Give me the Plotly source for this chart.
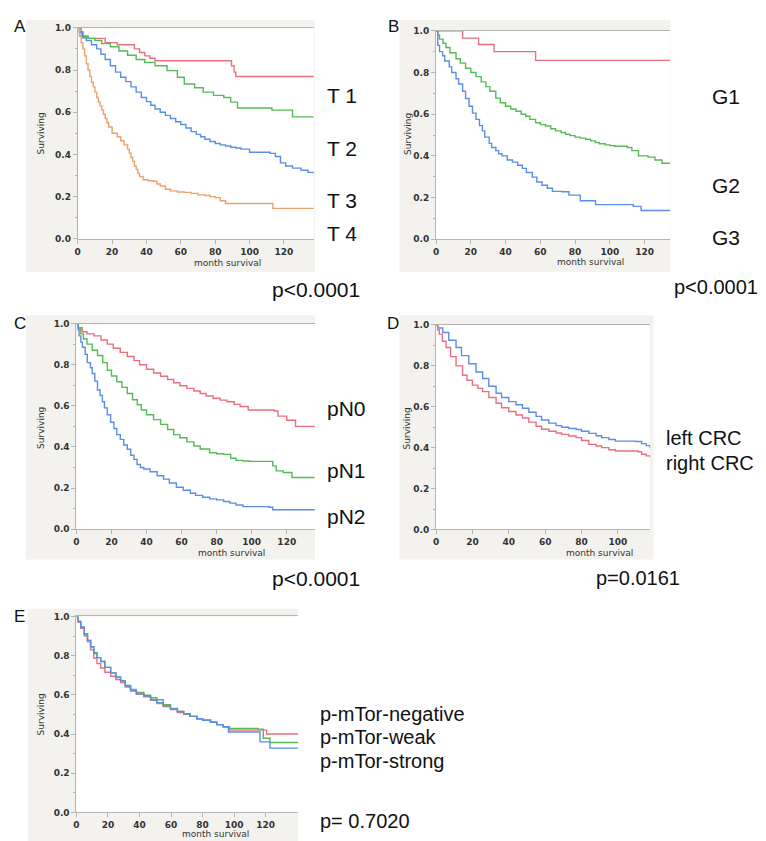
import plotly.graph_objects as go

# ---------------- data ----------------
A_T1_t = [0, 2, 6, 16, 23, 33, 36, 39, 42, 45, 89.5, 91, 92, 137.4]
A_T1_s = [1.0, 0.96, 0.95, 0.93, 0.92, 0.90, 0.883, 0.867, 0.856, 0.844, 0.82, 0.79, 0.769, 0.769]
A_T2_t = [0, 1, 3, 6, 10, 14, 19, 24, 29, 34, 39, 45, 52, 58, 62, 68, 73, 79, 85, 89, 93, 113, 125, 137.4]
A_T2_s = [1.0, 0.98, 0.96, 0.95, 0.94, 0.925, 0.91, 0.89, 0.87, 0.85, 0.836, 0.82, 0.797, 0.766, 0.734, 0.716,
          0.695, 0.68, 0.67, 0.648, 0.62, 0.61, 0.578, 0.578]
A_T3_t = [0, 1, 3, 5, 8, 11, 13.5, 16, 19, 22, 25, 28, 31, 34, 37, 40, 42.5, 45, 48, 51, 54, 57, 60, 63, 66, 69,
          71.5, 74, 77, 80, 83, 86, 89, 92, 95, 100, 112, 115, 118, 121, 125, 130, 134, 137.4]
A_T3_s = [1.0, 0.98, 0.953, 0.94, 0.92, 0.90, 0.875, 0.85, 0.82, 0.79, 0.766, 0.745, 0.72, 0.695, 0.67, 0.65, 0.633,
          0.615, 0.60, 0.585, 0.57, 0.555, 0.542, 0.525, 0.508, 0.495, 0.484, 0.472, 0.461, 0.452, 0.445, 0.44,
          0.434, 0.43, 0.425, 0.41, 0.405, 0.39, 0.36, 0.345, 0.335, 0.325, 0.315, 0.31]
A_T4_t = [0, 1, 2, 3, 4, 5, 6, 7, 8, 9, 10, 11, 12, 13, 14, 15, 16, 17, 18, 20, 23, 25, 27, 29, 30, 31, 32, 33, 34,
          35, 36, 38, 41, 44, 46, 48, 51, 54, 58, 62, 66, 70, 74, 77, 80, 83, 86, 113.6, 137.4]
A_T4_s = [1.0, 0.96, 0.93, 0.90, 0.867, 0.83, 0.80, 0.77, 0.742, 0.72, 0.695, 0.67, 0.648, 0.63, 0.61, 0.59, 0.57,
          0.55, 0.53, 0.50, 0.484, 0.465, 0.445, 0.425, 0.406, 0.385, 0.367, 0.345, 0.33, 0.31, 0.295, 0.28, 0.275,
          0.273, 0.26, 0.25, 0.235, 0.227, 0.222, 0.22, 0.215, 0.208, 0.205, 0.20, 0.195, 0.18, 0.167, 0.144, 0.144]

B_G1_t = [0, 15.3, 24.5, 33.4, 57.3, 134.7]
B_G1_s = [1.0, 0.965, 0.934, 0.90, 0.858, 0.858]
B_G2_t = [0, 1, 2, 4, 5.7, 8, 11.5, 14, 17, 20, 23, 26, 28.7, 31, 34.4, 37, 40, 43, 46, 49, 51.6, 54, 57.3, 60, 63,
          66, 68.8, 72, 74.5, 77, 80, 83, 86, 89, 91.7, 94, 97.4, 100, 103, 110, 112.7, 116.5, 122, 126, 130, 134.7]
B_G2_s = [1.0, 0.98, 0.96, 0.94, 0.92, 0.895, 0.866, 0.845, 0.82, 0.80, 0.78, 0.755, 0.732, 0.71, 0.677, 0.655,
          0.638, 0.625, 0.614, 0.60, 0.59, 0.575, 0.559, 0.55, 0.543, 0.53, 0.52, 0.512, 0.504, 0.497, 0.49, 0.485,
          0.48, 0.472, 0.464, 0.458, 0.453, 0.449, 0.446, 0.44, 0.425, 0.40, 0.394, 0.38, 0.365, 0.36]
B_G3_t = [0, 1, 2, 3.8, 5, 7.6, 9, 11.5, 13, 15.3, 17, 19, 21, 23, 25, 26.7, 28, 30.6, 32, 34.4, 36, 38, 41, 44, 47,
          49.7, 52, 55.4, 58, 61, 64, 67, 72.6, 76.5, 83, 91.8, 113.5, 118, 134.7]
B_G3_s = [1.0, 0.93, 0.90, 0.88, 0.855, 0.827, 0.80, 0.77, 0.745, 0.71, 0.675, 0.638, 0.605, 0.575, 0.545, 0.52,
          0.49, 0.46, 0.44, 0.425, 0.41, 0.40, 0.38, 0.37, 0.355, 0.34, 0.32, 0.298, 0.275, 0.259, 0.245, 0.23,
          0.228, 0.212, 0.185, 0.166, 0.158, 0.138, 0.138]

C_N0_t = [0, 1, 3.4, 6, 10, 14, 17.6, 21, 25, 29, 32.8, 36, 40, 44, 48, 52, 55.5, 59, 63, 67, 70.6, 74, 78, 82,
          85.8, 90, 93.4, 98, 113, 115, 120, 125, 136]
C_N0_s = [1.0, 0.98, 0.96, 0.95, 0.94, 0.92, 0.90, 0.88, 0.86, 0.84, 0.82, 0.80, 0.778, 0.76, 0.744, 0.728, 0.712,
          0.698, 0.685, 0.672, 0.66, 0.648, 0.637, 0.628, 0.62, 0.607, 0.597, 0.58, 0.575, 0.55, 0.53, 0.50, 0.495]
C_N1_t = [0, 1, 2.5, 4, 6, 9, 12, 15, 17.6, 20, 23, 26, 29, 32, 34.7, 37, 40, 44, 48, 52, 55.5, 59, 63, 67, 70.6,
          76, 80, 84, 88, 91, 95, 99, 112, 114, 118, 123, 136]
C_N1_s = [1.0, 0.975, 0.95, 0.925, 0.90, 0.87, 0.845, 0.81, 0.773, 0.745, 0.717, 0.69, 0.66, 0.63, 0.605, 0.58,
          0.557, 0.533, 0.51, 0.485, 0.46, 0.445, 0.425, 0.405, 0.39, 0.372, 0.367, 0.364, 0.345, 0.335, 0.332,
          0.33, 0.308, 0.284, 0.276, 0.252, 0.252]
C_N2_t = [0, 1, 1.5, 2.5, 3.4, 5, 6.2, 8, 9, 10.5, 12, 13.5, 14.8, 16, 17.6, 19.5, 21.4, 23, 25, 27, 29, 31, 32.8,
          34.6, 36.5, 38.4, 42, 46, 49.7, 53, 57, 61, 65, 68, 72, 76, 80, 84, 87.5, 91, 95, 110, 112, 136]
C_N2_s = [1.0, 0.97, 0.94, 0.91, 0.885, 0.85, 0.81, 0.785, 0.757, 0.72, 0.677, 0.65, 0.62, 0.59, 0.557, 0.52, 0.49,
          0.46, 0.437, 0.41, 0.389, 0.36, 0.34, 0.315, 0.30, 0.293, 0.28, 0.26, 0.244, 0.225, 0.204, 0.19, 0.175,
          0.165, 0.156, 0.148, 0.143, 0.135, 0.127, 0.118, 0.11, 0.107, 0.095, 0.095]

D_left_t = [0, 1, 3.7, 7, 11, 14, 18, 22, 25.6, 29, 33, 36, 40, 44, 47.5, 51, 55, 58, 62, 66, 69, 73, 77, 80, 84,
            88, 91, 95, 98.6, 109.6, 113, 115.5, 117.7]
D_left_s = [1.0, 0.985, 0.963, 0.925, 0.89, 0.85, 0.81, 0.77, 0.738, 0.70, 0.666, 0.645, 0.625, 0.61, 0.593, 0.573,
            0.553, 0.535, 0.52, 0.508, 0.50, 0.494, 0.489, 0.48, 0.47, 0.458, 0.449, 0.44, 0.432, 0.43, 0.42,
            0.41, 0.397]
D_right_t = [0, 1, 1.8, 3.5, 5.5, 8, 11, 14.6, 17, 20, 23, 25.6, 29, 33, 36, 40, 44, 47.5, 51, 55, 58, 62, 66, 69,
             73, 77, 80, 84, 88, 91, 95, 98.6, 111, 113, 115.5, 117.7]
D_right_s = [1.0, 0.975, 0.955, 0.92, 0.89, 0.845, 0.80, 0.754, 0.73, 0.706, 0.69, 0.674, 0.645, 0.617, 0.595,
             0.577, 0.56, 0.545, 0.525, 0.505, 0.49, 0.48, 0.472, 0.465, 0.457, 0.449, 0.435, 0.416, 0.408, 0.40,
             0.39, 0.384, 0.38, 0.368, 0.36, 0.352]

E_neg_t = [0, 1, 2.7, 5, 7, 9, 11, 13, 15.4, 18, 21.7, 25, 28, 31, 34.3, 38, 42.7, 47, 51, 55, 59.6, 64, 68, 72,
           76.4, 80, 85, 89, 93, 97, 120.6, 140.6]
E_neg_s = [1.0, 0.97, 0.94, 0.9, 0.87, 0.83, 0.787, 0.76, 0.737, 0.715, 0.695, 0.678, 0.662, 0.64, 0.62, 0.603,
           0.59, 0.572, 0.555, 0.54, 0.525, 0.51, 0.50, 0.49, 0.478, 0.47, 0.46, 0.448, 0.437, 0.42, 0.40, 0.40]
E_weak_t = [0, 1, 2.7, 5, 7, 9, 11, 13, 15.4, 18, 21.7, 25, 28, 31, 34.3, 38, 42.7, 47, 51, 55, 59.6, 64, 68, 72,
            76.4, 80, 85, 89, 93, 97, 115, 118.5, 122.7, 140.6]
E_weak_s = [1.0, 0.975, 0.945, 0.91, 0.878, 0.845, 0.815, 0.79, 0.77, 0.74, 0.712, 0.69, 0.672, 0.648, 0.628,
            0.612, 0.598, 0.585, 0.575, 0.55, 0.53, 0.515, 0.503, 0.49, 0.478, 0.47, 0.46, 0.448, 0.437, 0.428,
            0.425, 0.378, 0.357, 0.357]
E_strong_t = [0, 1, 2.7, 5, 7, 9, 11, 13, 15.4, 18, 21.7, 25, 28, 31, 34.3, 38, 42.7, 47, 51, 55, 59.6, 64, 68, 72,
              76.4, 80, 85, 89, 93, 96.4, 116.4, 122.7, 140.6]
E_strong_s = [1.0, 0.975, 0.945, 0.91, 0.878, 0.845, 0.81, 0.79, 0.77, 0.74, 0.712, 0.69, 0.67, 0.645, 0.62, 0.605,
              0.595, 0.575, 0.56, 0.545, 0.528, 0.515, 0.503, 0.49, 0.478, 0.47, 0.46, 0.448, 0.437, 0.41, 0.36,
              0.328, 0.328]

y_ticks = [0.0, 0.2, 0.4, 0.6, 0.8, 1.0]
x_ticks = [0, 20, 40, 60, 80, 100, 120]

# ---------------- styling ----------------
W, H = 766, 841
RED, GREEN, BLUE, ORANGE = "#e8707f", "#55bb55", "#5b8ee6", "#eba26e"
PANEL_BG = "#f3f2ee"
AX = "#b4b4b4"
FONT = "Liberation Sans, Arial, sans-serif"
SMALL = "DejaVu Sans, sans-serif"

def px(x):
    return x / W

def py(y):
    return 1 - y / H

panels = [
    dict(letter="A", box=(67, 15, 304, 228.5), xmax=137.4, grey=(15, 7, 305, 262), letter_xy=(9, 14),
         curves=[(A_T1_t, A_T1_s, RED), (A_T2_t, A_T2_s, GREEN), (A_T3_t, A_T3_s, BLUE), (A_T4_t, A_T4_s, ORANGE)],
         labels=[("T 1", 315, 83), ("T 2", 315, 137), ("T 3", 315, 190), ("T 4", 315, 223)], lsize=21,
         pval=("p<0.0001", 260, 280, 21), xlab=(217, 253), ylab=(30, 122)),
    dict(letter="B", box=(426.7, 18, 661.7, 229), xmax=134.7, grey=(390, 7, 662, 262), letter_xy=(384, 14),
         curves=[(B_G1_t, B_G1_s, RED), (B_G2_t, B_G2_s, GREEN), (B_G3_t, B_G3_s, BLUE)],
         labels=[("G1", 702, 85), ("G2", 702, 175), ("G3", 702, 227)], lsize=21,
         pval=("p<0.0001", 664, 277, 20), xlab=(582, 252), ylab=(398, 122)),
    dict(letter="C", box=(65.7, 314.3, 305, 522.5), xmax=136, grey=(15, 306, 305, 553), letter_xy=(9, 314),
         curves=[(C_N0_t, C_N0_s, RED), (C_N1_t, C_N1_s, GREEN), (C_N2_t, C_N2_s, BLUE)],
         labels=[("pN0", 315, 400), ("pN1", 315, 463), ("pN2", 315, 510)], lsize=21,
         pval=("p<0.0001", 260, 572, 21), xlab=(221, 547), ylab=(30, 420)),
    dict(letter="D", box=(426.7, 315.7, 641.7, 522.7), xmax=117.7, grey=(390, 306, 645, 553), letter_xy=(384, 314),
         curves=[(D_left_t, D_left_s, BLUE), (D_right_t, D_right_s, RED)],
         labels=[("left CRC", 656, 430), ("right CRC", 656, 455)], lsize=20,
         pval=("p=0.0161", 585, 572, 20), xlab=(591, 547), ylab=(398, 420)),
    dict(letter="E", box=(65.7, 610.7, 288.3, 809), xmax=140.6, grey=(17, 603, 288, 838), letter_xy=(9, 611),
         curves=[(E_neg_t, E_neg_s, RED), (E_weak_t, E_weak_s, GREEN), (E_strong_t, E_strong_s, BLUE)],
         labels=[("p-mTor-negative", 308, 709), ("p-mTor-weak", 308, 733), ("p-mTor-strong", 308, 757)], lsize=20,
         pval=("p= 0.7020", 308, 818, 20), xlab=(205, 831), ylab=(30, 710)),
]

fig = go.Figure()
shapes, annotations = [], []
layout = {}

for i, p in enumerate(panels):
    n = "" if i == 0 else str(i + 1)
    l, t, r, b = p["box"]
    gl, gt, gr, gb = p["grey"]
    shapes.append(dict(type="rect", xref="paper", yref="paper", x0=px(gl), x1=px(gr), y0=py(gb), y1=py(gt),
                       fillcolor=PANEL_BG, line=dict(width=0), layer="below"))
    shapes.append(dict(type="rect", xref="paper", yref="paper", x0=px(l), x1=px(r), y0=py(b), y1=py(t),
                       fillcolor="white", line=dict(width=0), layer="below"))
    tickfont = dict(family=SMALL, size=9, color="#333333", weight="bold")
    layout["xaxis" + n] = dict(domain=[px(l), px(r)], range=[0, p["xmax"]], anchor="y" + n,
                               tickvals=x_ticks, ticktext=[str(v) for v in x_ticks],
                               showgrid=False, zeroline=False, showline=True, linecolor=AX, linewidth=1,
                               mirror=True, ticks="outside", ticklen=4, tickcolor=AX, tickfont=tickfont)
    layout["yaxis" + n] = dict(domain=[py(b), py(t)], range=[0, 1.0], anchor="x" + n,
                               tickvals=y_ticks, ticktext=["%.1f" % v for v in y_ticks],
                               showgrid=False, zeroline=False, showline=True, linecolor=AX, linewidth=1,
                               ticks="outside", ticklen=4, tickcolor=AX,
                               minor=dict(dtick=0.1, ticks="outside", ticklen=2, tickcolor=AX),
                               tickfont=tickfont)
    for tt, ss, col in p["curves"]:
        fig.add_trace(go.Scatter(x=tt, y=ss, mode="lines", line=dict(color=col, width=1.4, shape="hv"),
                                 xaxis="x" + n, yaxis="y" + n, showlegend=False, cliponaxis=False))
    annotations.append(dict(text=p["letter"], x=px(p["letter_xy"][0]), y=py(p["letter_xy"][1]), xref="paper",
                            yref="paper", showarrow=False, xanchor="center", yanchor="middle",
                            font=dict(family=FONT, size=17, color="#111111")))
    annotations.append(dict(text="month survival", x=px(p["xlab"][0]), y=py(p["xlab"][1]), xref="paper",
                            yref="paper", showarrow=False, xanchor="center", yanchor="middle",
                            font=dict(family=SMALL, size=9, color="#333333")))
    annotations.append(dict(text="Surviving", x=px(p["ylab"][0]), y=py(p["ylab"][1]), xref="paper",
                            yref="paper", showarrow=False, xanchor="center", yanchor="middle", textangle=-90,
                            font=dict(family=SMALL, size=9, color="#333333")))
    for txt, lx, ly in p["labels"]:
        annotations.append(dict(text=txt, x=px(lx), y=py(ly), xref="paper", yref="paper", showarrow=False,
                                xanchor="left", yanchor="middle",
                                font=dict(family=FONT, size=p["lsize"], color="#111111")))
    txt, lx, ly, ps = p["pval"]
    annotations.append(dict(text=txt, x=px(lx), y=py(ly), xref="paper", yref="paper", showarrow=False,
                            xanchor="left", yanchor="middle",
                            font=dict(family=FONT, size=ps, color="#111111")))

fig.update_layout(width=W, height=H, margin=dict(l=0, r=0, t=0, b=0), paper_bgcolor="white",
                  plot_bgcolor="white", shapes=shapes, annotations=annotations, showlegend=False, **layout)
fig.write_html("out.html")
